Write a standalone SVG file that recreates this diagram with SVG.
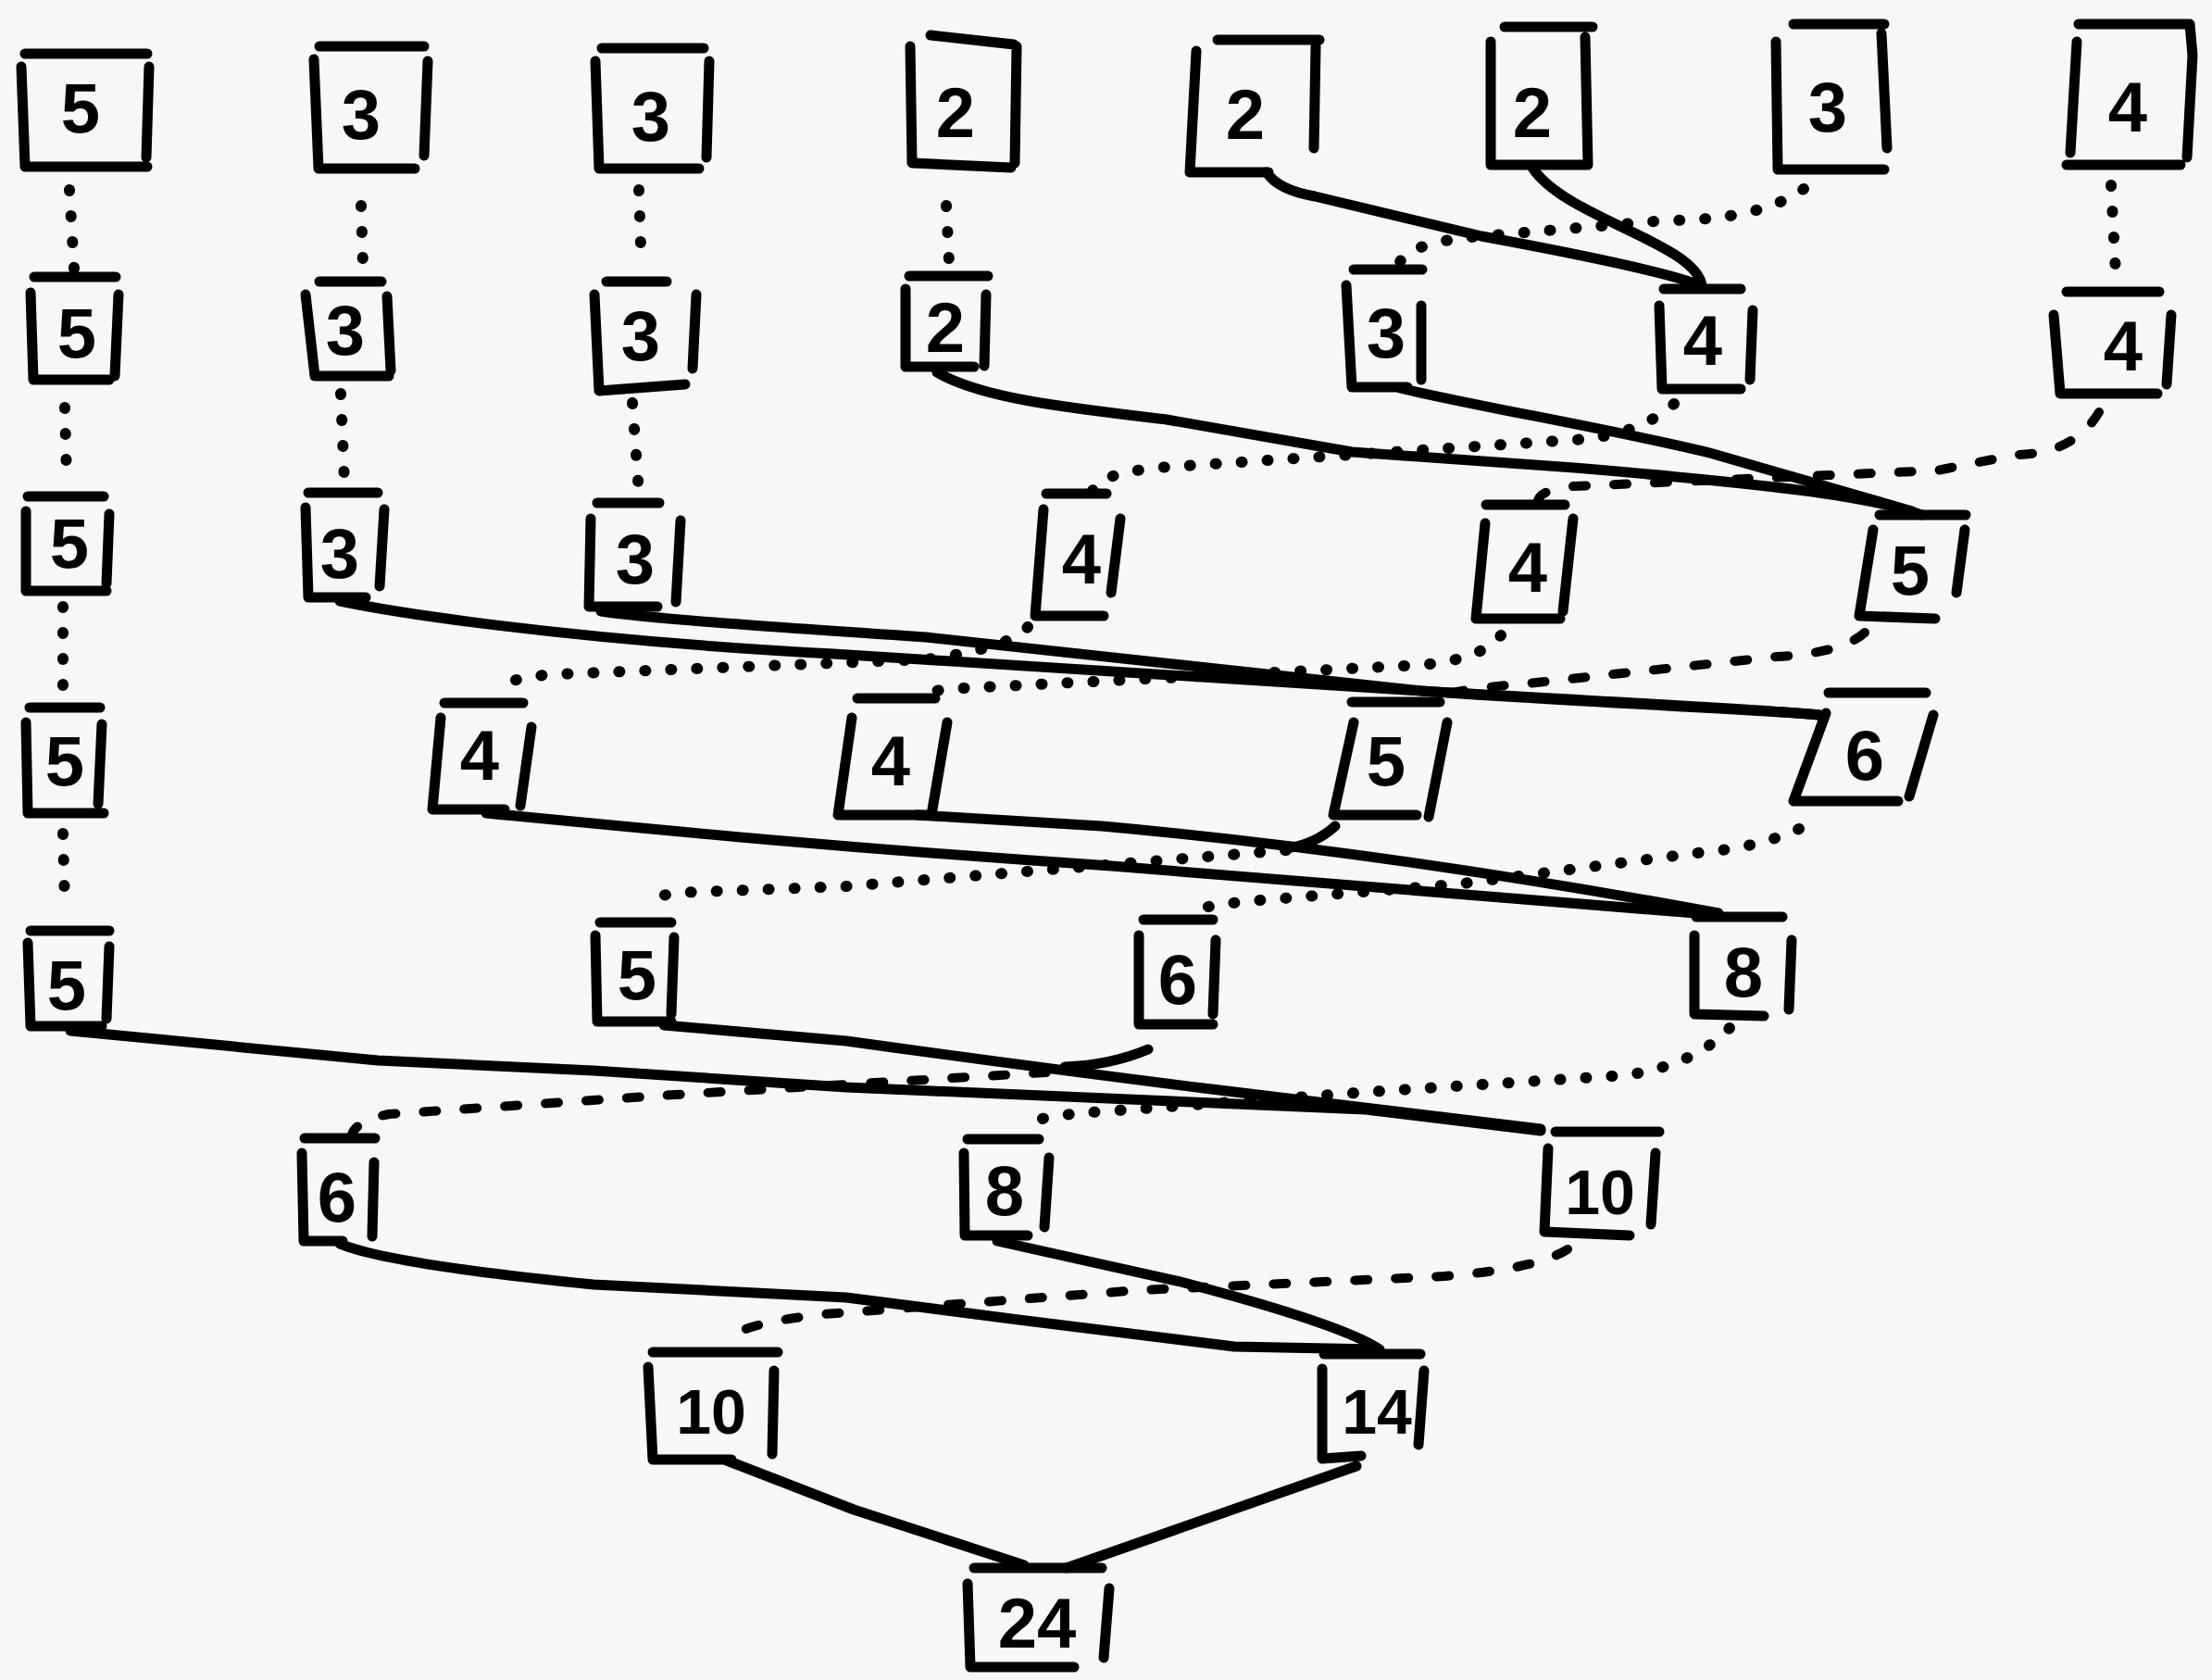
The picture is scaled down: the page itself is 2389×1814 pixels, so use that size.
<svg xmlns="http://www.w3.org/2000/svg" width="2389" height="1814" viewBox="0 0 2389 1814">
<style>
.bx{fill:none;stroke:#000;stroke-width:11;stroke-linecap:round;stroke-linejoin:round}
.t{font-family:"Liberation Sans",Arial,sans-serif;font-weight:bold;font-size:76px;fill:#000;text-anchor:middle;dominant-baseline:central}
.t2{font-size:68px}
.s{fill:none;stroke:#000;stroke-width:11;stroke-linecap:round;stroke-linejoin:round}
.d{fill:none;stroke:#000;stroke-width:12;stroke-linecap:round;stroke-dasharray:1 27}
.dd{fill:none;stroke:#000;stroke-width:10;stroke-linecap:round;stroke-dasharray:14 30}
</style>
<rect width="2389" height="1814" fill="#f7f7f7"/>
<g id="connectors">
<path class="d" d="M75,205 L80,290"/>
<path class="d" d="M70,440 L72,515"/>
<path class="d" d="M68,655 L68,740"/>
<path class="d" d="M68,900 L70,975"/>
<path class="d" d="M390,222 L392,285"/>
<path class="d" d="M368,425 L372,520"/>
<path class="d" d="M690,205 L692,265"/>
<path class="d" d="M683,435 L690,532"/>
<path class="d" d="M1022,222 L1025,283"/>
<path class="d" d="M2280,200 L2285,295"/>
<path class="s" d="M1368,186 Q1380,205 1420,212 L1600,255 Q1790,290 1836,308"/>
<path class="s" d="M1655,181 C1690,235 1830,262 1838,308"/>
<path class="d" d="M1948,204 Q1900,238 1799,238 L1600,255 Q1515,262 1510,288"/>
<path class="s" d="M1012,402 C1060,430 1150,440 1260,453 L1460,488 L1700,505 C1900,522 2020,535 2075,556"/>
<path class="s" d="M1512,419 C1600,440 1750,465 1850,490 L2065,552"/>
<path class="d" d="M1808,436 Q1770,470 1700,475 L1250,505 Q1185,512 1180,530"/>
<path class="dd" d="M2267,445 Q2240,490 2178,491 L2092,508 L1700,525 Q1665,528 1661,540"/>
<path class="s" d="M367,649 C420,660 600,690 900,706 L1535,746 C1700,756 1900,765 1965,772"/>
<path class="s" d="M649,660 C700,668 850,678 1000,688 L1535,746 C1700,758 1900,766 1965,772"/>
<path class="d" d="M1110,677 Q1090,700 1000,712 L600,728 Q545,732 537,745"/>
<path class="d" d="M1621,686 Q1600,712 1535,718 L1041,743 Q1000,745 995,752"/>
<path class="dd" d="M2014,683 Q1990,705 1919,709 L1650,738 Q1560,745 1550,755"/>
<path class="s" d="M525,878 C700,895 900,915 1200,935 L1856,988"/>
<path class="s" d="M990,880 L1190,892 Q1500,920 1856,986"/>
<path class="s" d="M1442,892 Q1420,912 1389,916"/>
<path class="d" d="M1389,918 L914,957 L729,964 Q705,968 702,979"/>
<path class="d" d="M1943,895 Q1900,915 1833,921 L1572,955 L1361,972 Q1290,978 1280,988"/>
<path class="s" d="M76,1113 L408,1145 L641,1156 L914,1174 L1475,1198 L1664,1221"/>
<path class="s" d="M717,1107 L914,1124 Q1100,1150 1300,1175 L1664,1219"/>
<path class="s" d="M1240,1133 Q1200,1150 1150,1152"/>
<path class="dd" d="M1130,1158 L729,1182 L420,1203 Q385,1210 380,1225"/>
<path class="d" d="M1868,1110 Q1830,1150 1756,1161 L1493,1178 L1194,1200 Q1110,1205 1106,1218"/>
<path class="s" d="M367,1343 Q420,1365 641,1387 L914,1401 L1100,1425 L1333,1454 L1487,1457"/>
<path class="s" d="M1077,1340 L1275,1384 Q1450,1430 1490,1457"/>
<path class="dd" d="M1693,1349 Q1660,1370 1560,1378 L1231,1393 L890,1419 Q790,1430 785,1450"/>
<path class="s" d="M785,1577 L922,1630 L1106,1690"/>
<path class="s" d="M1465,1583 L1152,1693"/>
</g>
<g id="A1"><path class="bx" d="M27,58 H159 M23,72 L27,180 H159 M161,72 L158,170"/><text class="t" x="87" y="116">5</text></g>
<g id="A2"><path class="bx" d="M345,50 H458 M339,64 L344,182 H448 M462,66 L458,168"/><text class="t" x="390" y="123">3</text></g>
<g id="A3"><path class="bx" d="M650,52 H760 M643,66 L647,182 H755 M766,66 L763,170"/><text class="t" x="703" y="125">3</text></g>
<g id="A4"><path class="bx" d="M1005,38 L1095,48 M983,50 L985,176 L1092,181 M1098,50 L1096,176"/><text class="t" x="1032" y="121">2</text></g>
<g id="A5"><path class="bx" d="M1315,43 H1425 M1292,55 L1285,186 L1370,186 M1421,50 L1419,160"/><text class="t" x="1345" y="123">2</text></g>
<g id="A6"><path class="bx" d="M1625,29 H1720 M1610,45 L1610,178 H1715 M1712,40 L1715,178"/><text class="t" x="1655" y="121">2</text></g>
<g id="A7"><path class="bx" d="M1937,26 H2035 M1918,45 L1920,183 H2035 M2032,36 L2038,160"/><text class="t" x="1974" y="115">3</text></g>
<g id="A8"><path class="bx" d="M2245,26 H2365 L2368,60 L2362,170 M2243,45 L2236,165 M2232,178 H2355"/><text class="t" x="2298" y="115">4</text></g>
<g id="B1"><path class="bx" d="M37,299 H125 M33,316 L36,410 H118 M128,318 L124,406"/><text class="t" x="83" y="359">5</text></g>
<g id="B2"><path class="bx" d="M345,304 H412 M330,318 L340,406 H420 M418,320 L422,400"/><text class="t" x="373" y="356">3</text></g>
<g id="B3"><path class="bx" d="M655,304 H720 M642,318 L647,422 L740,415 M752,318 L748,398"/><text class="t" x="692" y="362">3</text></g>
<g id="B4"><path class="bx" d="M982,298 H1067 M978,312 L978,396 H1052 M1065,318 L1063,395"/><text class="t" x="1021" y="353">2</text></g>
<g id="B5"><path class="bx" d="M1462,291 H1536 M1454,308 L1460,418 H1520 M1535,330 L1535,410"/><text class="t" x="1497" y="359">3</text></g>
<g id="B6"><path class="bx" d="M1797,312 H1880 M1792,330 L1795,420 H1880 M1893,335 L1890,410"/><text class="t" x="1839" y="367">4</text></g>
<g id="B7"><path class="bx" d="M2232,315 H2332 M2218,340 L2225,425 H2330 M2345,340 L2340,415"/><text class="t" x="2293" y="373">4</text></g>
<g id="C1"><path class="bx" d="M30,536 H112 M28,552 L28,638 H115 M118,555 L115,630"/><text class="t" x="75" y="586">5</text></g>
<g id="C2"><path class="bx" d="M333,532 H408 M330,548 L333,645 H395 M415,550 L410,633"/><text class="t" x="367" y="597">3</text></g>
<g id="C3"><path class="bx" d="M645,543 H712 M638,560 L636,655 L710,655 M735,562 L730,650"/><text class="t" x="686" y="603">3</text></g>
<g id="C4"><path class="bx" d="M1130,533 H1195 M1127,550 L1118,665 H1192 M1210,560 L1200,640"/><text class="t" x="1168" y="603">4</text></g>
<g id="C5"><path class="bx" d="M1605,545 H1690 M1604,565 L1594,668 H1685 M1699,560 L1688,660"/><text class="t" x="1650" y="612">4</text></g>
<g id="C6"><path class="bx" d="M2030,556 H2123 M2023,572 L2008,665 L2090,668 M2122,572 L2113,640"/><text class="t" x="2063" y="615">5</text></g>
<g id="D1"><path class="bx" d="M32,764 H108 M28,780 L30,878 H112 M110,782 L106,868"/><text class="t" x="70" y="821">5</text></g>
<g id="D2"><path class="bx" d="M480,759 H565 M476,775 L467,874 H545 M574,785 L562,870"/><text class="t" x="518" y="815">4</text></g>
<g id="D3"><path class="bx" d="M926,754 H1010 M920,775 L905,880 H1000 M1023,780 L1006,880"/><text class="t" x="962" y="821">4</text></g>
<g id="D4"><path class="bx" d="M1460,758 H1555 M1462,780 L1440,880 H1530 M1563,780 L1543,882"/><text class="t" x="1497" y="821">5</text></g>
<g id="D5"><path class="bx" d="M1975,748 H2080 M1972,770 L1937,865 H2050 M2088,772 L2062,860"/><text class="t" x="2014" y="815">6</text></g>
<g id="E1"><path class="bx" d="M33,1005 H118 M30,1018 L33,1108 H110 M118,1022 L115,1100"/><text class="t" x="72" y="1063">5</text></g>
<g id="E2"><path class="bx" d="M648,996 H725 M643,1010 L645,1103 H725 M728,1012 L725,1095"/><text class="t" x="688" y="1052">5</text></g>
<g id="E3"><path class="bx" d="M1235,993 H1310 M1230,1010 L1230,1106 H1310 M1313,1015 L1310,1095"/><text class="t" x="1272" y="1057">6</text></g>
<g id="E4"><path class="bx" d="M1832,990 H1925 M1830,1010 L1830,1095 L1905,1097 M1935,1015 L1932,1090"/><text class="t" x="1883" y="1049">8</text></g>
<g id="F1"><path class="bx" d="M329,1229 H405 M326,1245 L328,1340 H370 M404,1255 L402,1335"/><text class="t" x="364" y="1292">6</text></g>
<g id="F2"><path class="bx" d="M1045,1230 H1122 M1041,1245 L1042,1334 H1110 M1133,1250 L1128,1325"/><text class="t" x="1085" y="1285">8</text></g>
<g id="F3"><path class="bx" d="M1680,1222 H1792 M1672,1240 L1668,1330 L1760,1334 M1788,1245 L1783,1322"/><text class="t t2" x="1728" y="1287">10</text></g>
<g id="G1"><path class="bx" d="M705,1460 H840 M700,1476 L705,1576 H790 M836,1480 L834,1570"/><text class="t t2" x="768" y="1524">10</text></g>
<g id="G2"><path class="bx" d="M1430,1462 H1534 M1428,1478 L1428,1575 L1470,1572 M1538,1480 L1532,1560"/><text class="t t2" x="1487" y="1524">14</text></g>
<g id="H1"><path class="bx" d="M1052,1693 H1190 M1045,1710 L1048,1800 H1160 M1198,1715 L1192,1790"/><text class="t" x="1120" y="1752">24</text></g>
</svg>
